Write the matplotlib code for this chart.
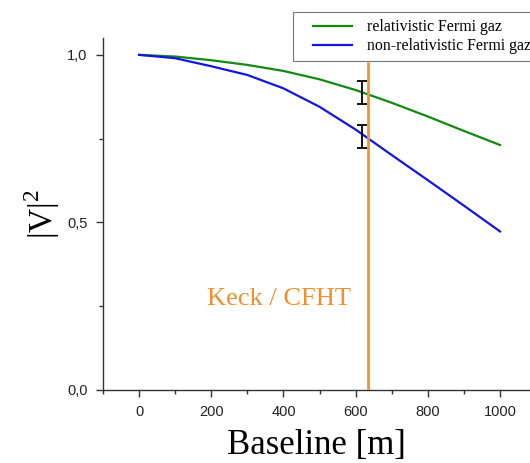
import matplotlib
matplotlib.use("Agg")
import matplotlib.pyplot as plt
from matplotlib.ticker import MultipleLocator, FuncFormatter
from matplotlib.legend_handler import HandlerLine2D

plt.rcParams['mathtext.fontset'] = 'custom'
plt.rcParams['mathtext.rm'] = 'Liberation Serif'

# baseline [m] and squared visibility
baseline = [0, 100, 200, 300, 400, 500, 600, 700, 800, 900, 1000]
v2_relativistic = [1.000, 0.995, 0.984, 0.970, 0.952, 0.927, 0.895, 0.857, 0.816, 0.773, 0.731]
v2_nonrelativistic = [1.000, 0.990, 0.966, 0.940, 0.900, 0.845, 0.777, 0.701, 0.626, 0.550, 0.473]

# measured points with error bars
meas_x = [618, 618]
meas_y = [0.887, 0.756]
meas_err = [0.034, 0.034]

# Keck / CFHT baseline
keck_x = 633
keck_top = 0.98

fig = plt.figure(figsize=(5.30, 4.63), dpi=100)
ax = fig.add_axes([0.1943, 0.1577, 0.8057, 0.760])

ax.plot(baseline, v2_relativistic, color='#128a12', lw=1.6, label='relativistic Fermi gaz')
ax.plot(baseline, v2_nonrelativistic, color='#1414e6', lw=1.6, label='non-relativistic Fermi gaz')
ax.errorbar(meas_x, meas_y, yerr=meas_err, fmt='none', ecolor='black', elinewidth=1.3,
            capsize=3.6, capthick=1.3, zorder=4)
ax.vlines(keck_x, 0, keck_top, color='#f39131', lw=2.0, zorder=5)
ax.text(188, 0.254, 'Keck / CFHT', color='#f0902e', fontsize=19, family='Liberation Serif')

ax.set_xlim(-100, 1083)
ax.set_ylim(0, 1.05)
ax.xaxis.set_major_locator(MultipleLocator(200))
ax.xaxis.set_minor_locator(MultipleLocator(100))
ax.yaxis.set_major_locator(MultipleLocator(0.5))
ax.yaxis.set_minor_locator(MultipleLocator(0.25))
ax.yaxis.set_major_formatter(FuncFormatter(lambda v, p: ('%.1f' % v).replace('.', ',')))

for s in ['top', 'right']:
    ax.spines[s].set_visible(False)
for s in ['left', 'bottom']:
    ax.spines[s].set_color('#333333')
    ax.spines[s].set_linewidth(1.0)

ax.tick_params(which='major', direction='out', length=5, width=1, color='#333333',
               labelsize=10.5, labelcolor='#222222', pad=6)
ax.tick_params(which='minor', direction='out', length=3, width=1, color='#333333')
for lab in ax.get_xticklabels() + ax.get_yticklabels():
    lab.set_family('Liberation Sans')

ax.set_xlabel('Baseline [m]', fontsize=25, family='Liberation Serif', labelpad=7)
ax.set_ylabel(r'|V|$^2$', fontsize=24, family='Liberation Serif', labelpad=4)

leg = fig.legend(loc='upper left', bbox_to_anchor=(293 / 530, 1 - 12 / 463),
                 prop={'family': 'Liberation Serif', 'size': 11.4}, fancybox=False,
                 frameon=True, edgecolor='#555555', handlelength=3.3, handletextpad=0.95,
                 labelspacing=0.2, borderpad=0.45, borderaxespad=0,
                 handler_map={plt.Line2D: HandlerLine2D(xpad=0.82)})
leg.get_frame().set_linewidth(0.8)

fig.savefig('out.png', dpi=100, facecolor='white')
